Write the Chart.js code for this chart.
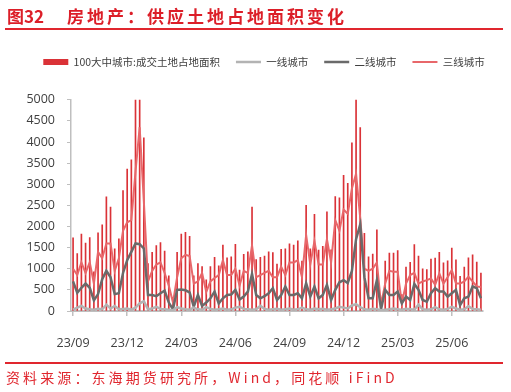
<!DOCTYPE html>
<html>
<head>
<meta charset="utf-8">
<script src="https://cdn.jsdelivr.net/npm/chart.js@4.4.1/dist/chart.umd.min.js"></script>
<style>
  html, body { margin: 0; padding: 0; background: #fff; }
  #wrap { position: relative; width: 511px; height: 392px; overflow: hidden; }
  #chart { position: absolute; left: 0; top: 0; }
  .title { position: absolute; top: 4px; font: bold 17px 'Noto Sans CJK SC', sans-serif; color: #dc1e28; line-height: 24px; white-space: nowrap; }
  .rule { position: absolute; left: 5px; width: 498px; height: 2px; background: #e0262e; }
  #source { position: absolute; left: 6px; top: 367px; font: 14px 'Noto Sans CJK SC', sans-serif; color: #e0262e; letter-spacing: 3.1px; line-height: 20px; white-space: nowrap; }
</style>
</head>
<body>
<div id="wrap">
  <canvas id="chart" width="511" height="392"></canvas>
  <div class="title" style="left:7px">图32</div>
  <div class="title" style="left:67px; letter-spacing:3px">房地产：供应土地占地面积变化</div>
  <div class="rule" style="top:28px"></div>
  <div class="rule" style="top:362px"></div>
  <div id="source">资料来源：东海期货研究所，Wind，同花顺 iFinD</div>
</div>
<script>
// weekly data (starts 2023/09)
const tickLabels = ['23/09', '23/12', '24/03', '24/06', '24/09', '24/12', '25/03', '25/06'];

const total = [
  1730, 1360, 1820, 1610, 1740, 930, 1850, 2040, 2700, 2460,
  1470, 1710, 2850, 3360, 3580, 5050, 6110, 4100, 1120, 1390,
  1550, 1620, 1420, 830, 260, 1390, 1820, 1860, 1770, 830,
  1120, 1050, 740, 1050, 1270, 1070, 1560, 1260, 1280, 1580,
  970, 1340, 1400, 2460, 1220, 1270, 1300, 1400, 1380, 1110,
  1460, 1470, 1590, 1560, 1660, 1180, 2500, 1470, 2290, 1440,
  1530, 2350, 1450, 2710, 2680, 3210, 3020, 3980, 5110, 4340,
  1840, 1280, 1350, 1920, 210, 1180, 1370, 1370, 1430, 390,
  1040, 1150, 1570, 1300, 1000, 980, 1230, 1250, 1390, 1140,
  1190, 1490, 1210, 820, 1040, 1260, 1330, 1160, 900
];

const tier1 = [
  30, 80, 120, 60, 40, 30, 50, 40, 150, 60,
  120, 40, 50, 60, 30, 80, 180, 230, 40, 60,
  100, 50, 40, 30, 20, 90, 60, 40, 30, 80,
  40, 30, 90, 50, 30, 40, 60, 30, 40, 80,
  100, 50, 40, 30, 40, 120, 50, 30, 40, 50,
  30, 40, 60, 30, 40, 80, 40, 30, 60, 40,
  50, 30, 40, 60, 100, 80, 60, 130, 160, 90,
  40, 30, 50, 40, 20, 30, 40, 60, 40, 30,
  50, 40, 30, 150, 40, 30, 40, 90, 40, 30,
  50, 100, 60, 30, 40, 110, 50, 40, 30
];

const tier2 = [
  700, 430, 550, 650, 550, 250, 400, 750, 950, 800,
  400, 420, 900, 1200, 1400, 1600, 1580, 1480, 380, 380,
  350, 420, 480, 200, 40, 500, 510, 490, 440, 100,
  380, 120, 200, 300, 460, 180, 300, 380, 390, 500,
  270, 340, 460, 880, 380, 300, 350, 420, 540, 260,
  380, 580, 380, 380, 420, 300, 660, 340, 580, 300,
  380, 620, 260, 500, 680, 730, 660, 950, 1700, 2050,
  800, 300, 300, 730, 40, 500, 380, 380, 460, 180,
  340, 260, 640, 500, 260, 220, 420, 540, 460, 460,
  340, 420, 500, 140, 300, 340, 580, 540, 300
];

const tier3 = [
  1000, 850, 1150, 900, 1150, 650, 1400, 1250, 1600, 1600,
  950, 1250, 1900, 2100, 2150, 3300, 4350, 2600, 700, 950,
  1100, 1150, 900, 600, 200, 800, 1250, 1330, 1300, 650,
  700, 900, 450, 700, 780, 850, 1200, 850, 850, 1000,
  600, 950, 900, 1550, 800, 850, 900, 950, 800, 800,
  1050, 850, 1150, 1150, 1200, 800, 1800, 1100, 1650, 1100,
  1100, 1700, 1150, 2150, 1900, 2400, 2300, 2900, 3250, 2200,
  1000, 950, 1000, 1150, 150, 650, 950, 930, 930, 180,
  650, 850, 900, 650, 700, 730, 770, 620, 890, 650,
  800, 970, 650, 650, 700, 810, 700, 580, 570
];

// weekly category labels
const weeks = [];
const start = new Date(2023, 8, 3);
for (let i = 0; i < total.length; i++) {
  const d = new Date(start.getTime() + i * 7 * 86400000);
  weeks.push(String(d.getFullYear()).slice(2) + '/' + String(d.getMonth() + 1).padStart(2, '0') + '/' + String(d.getDate()).padStart(2, '0'));
}

const axisGrey = '#bfbfbf';
const tickFont = { family: "'Open Sans', sans-serif", size: 12.5 };

// push the plot area down below the legend
const legendGap = {
  id: 'legendGap',
  beforeInit(chart) {
    const fit = chart.legend.fit;
    chart.legend.fit = function () {
      fit.bind(chart.legend)();
      this.height += 22.5;
    };
  }
};

new Chart(document.getElementById('chart'), {
  type: 'bar',
  data: {
    labels: weeks,
    datasets: [
      {
        type: 'bar',
        label: '100大中城市:成交土地占地面积',
        data: total,
        backgroundColor: '#da3237',
        borderWidth: 0,
        barThickness: 1,
        pointStyle: 'rect',
        order: 10
      },
      {
        type: 'line',
        label: '一线城市',
        data: tier1,
        borderColor: '#b3b3b3',
        borderWidth: 2.5,
        pointRadius: 0,
        tension: 0,
        pointStyle: 'line',
        order: 1
      },
      {
        type: 'line',
        label: '二线城市',
        data: tier2,
        borderColor: '#6a6a6a',
        borderWidth: 2.5,
        pointRadius: 0,
        tension: 0,
        pointStyle: 'line',
        order: 2
      },
      {
        type: 'line',
        label: '三线城市',
        data: tier3,
        borderColor: '#e8676a',
        borderWidth: 2,
        pointRadius: 0,
        tension: 0,
        pointStyle: 'line',
        order: 3
      }
    ]
  },
  options: {
    responsive: false,
    animation: false,
    devicePixelRatio: 1,
    layout: { padding: { left: 17, right: 0, top: 40.75, bottom: 41 } },
    plugins: {
      legend: {
        position: 'top',
        labels: {
          usePointStyle: true,
          pointStyleWidth: 25,
          boxHeight: 6,
          padding: 16,
          color: '#404040',
          font: { family: "'Noto Sans CJK SC', sans-serif", size: 10.5 },
          sort: (a, b) => a.datasetIndex - b.datasetIndex
        }
      },
      tooltip: { enabled: false }
    },
    scales: {
      x: {
        afterFit(scale) { scale.height = 40; },
        grid: {
          display: true,
          drawOnChartArea: false,
          offset: false,
          tickLength: 5,
          lineWidth: 1.5,
          color: c => (c.index % 13 === 0 ? axisGrey : 'rgba(0,0,0,0)')
        },
        border: { color: axisGrey, width: 2 },
        ticks: {
          autoSkip: false,
          maxRotation: 0,
          padding: 20,
          color: '#404040',
          font: tickFont,
          callback: (v, i) => (i % 13 === 0 ? tickLabels[i / 13] : '')
        }
      },
      y: {
        min: 0,
        max: 5000,
        afterFit(scale) { scale.width = 54; },
        grid: { drawOnChartArea: false, tickLength: 4, color: axisGrey },
        border: { color: axisGrey, width: 1.5 },
        ticks: { stepSize: 500, padding: 12, color: '#404040', font: tickFont, callback: v => String(v) }
      },
      // empty right-hand strip so the plot ends where the reference ends
      yRight: {
        type: 'linear',
        position: 'right',
        afterFit(scale) { scale.width = 28; },
        grid: { display: false },
        border: { display: false },
        ticks: { display: false }
      }
    }
  },
  plugins: [legendGap]
});
</script>
</body>
</html>
